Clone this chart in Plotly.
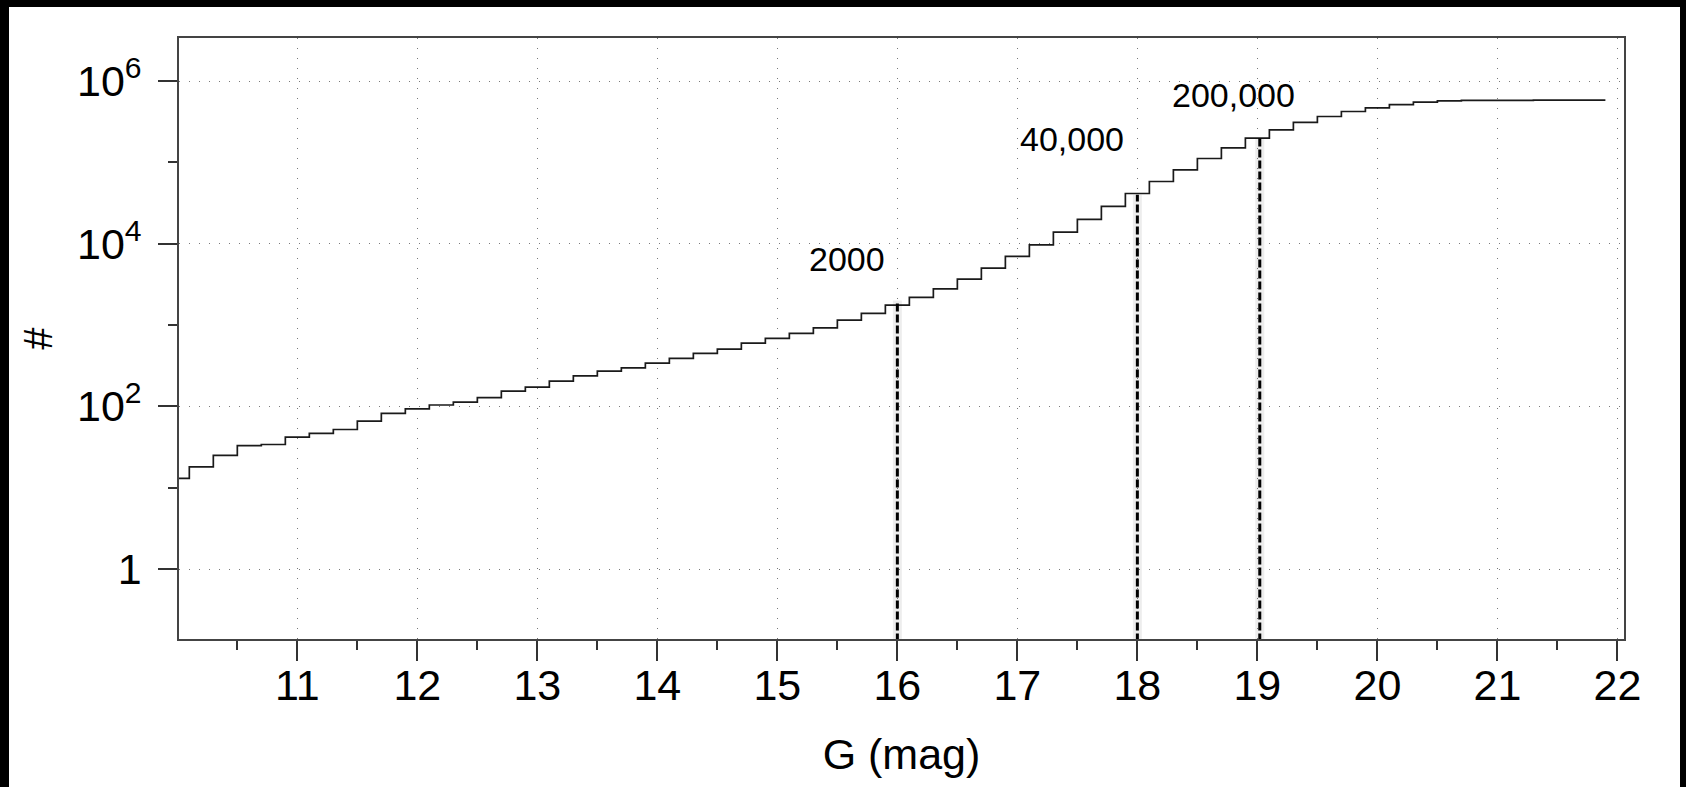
import plotly.graph_objects as go

# Cumulative star counts N(<G) in 0.2 mag bins
g_edges = [9.9, 10.1, 10.3, 10.5, 10.7, 10.9, 11.1, 11.3, 11.5, 11.7,
           11.9, 12.1, 12.3, 12.5, 12.7, 12.9, 13.1, 13.3, 13.5, 13.7,
           13.9, 14.1, 14.3, 14.5, 14.7, 14.9, 15.1, 15.3, 15.5, 15.7,
           15.9, 16.1, 16.3, 16.5, 16.7, 16.9, 17.1, 17.3, 17.5, 17.7,
           17.9, 18.1, 18.3, 18.5, 18.7, 18.9, 19.1, 19.3, 19.5, 19.7,
           19.9, 20.1, 20.3, 20.5, 20.7, 20.9, 21.1, 21.3, 21.5, 21.7, 21.9]
n_cum = [13, 18, 25, 33, 34, 42, 46.5, 52, 66, 82,
         93, 104, 113, 128, 154, 173, 205, 238, 272, 298,
         341, 389, 448, 506, 600, 685, 789, 925, 1150, 1390,
         1760, 2190, 2790, 3670, 5010, 6980, 9700, 13900, 19900, 28800,
         41500, 58300, 81100, 111800, 151000, 198700, 251000, 310000, 367000, 423000,
         469000, 515000, 550000, 571000, 578000, 580000, 581000, 582000, 582000, 582000]

# Marked magnitude limits and the counts quoted there
mark_g = [16.0, 18.0, 19.02]
mark_n = [2000, 40000, 200000]
mark_text = ["2000", "40,000", "200,000"]

g_ticks = [11, 12, 13, 14, 15, 16, 17, 18, 19, 20, 21, 22]
g_tick_text = [str(t) for t in g_ticks]
n_ticks = [1, 1e2, 1e4, 1e6]
n_tick_text = ["1", "10<sup>2</sup>", "10<sup>4</sup>", "10<sup>6</sup>"]

W, H = 1686, 787
ML, MR, MT, MB = 179, 62, 38, 148
X_RANGE = [10.014, 22.055]
Y_RANGE = [-0.86, 6.53]          # log10 units
FONT = "Liberation Sans, Arial, Helvetica, sans-serif"

fig = go.Figure()

# step curve: each point starts a bin, the last point closes the final bin
fig.add_trace(go.Scatter(
    x=g_edges, y=n_cum + [n_cum[-1]],
    mode="lines", line=dict(color="#1a1a1a", width=1.7, shape="hv"),
    showlegend=False, hoverinfo="x+y"))

# dashed drop lines from the axis floor up to each quoted count
floor_n = 10 ** Y_RANGE[0] / 2
for g, n in zip(mark_g, mark_n):
    fig.add_trace(go.Scatter(
        x=[g, g], y=[floor_n, n], mode="lines",
        line=dict(color="rgba(0,0,0,0.07)", width=9),
        showlegend=False, hoverinfo="skip"))
    fig.add_trace(go.Scatter(
        x=[g, g], y=[floor_n, n], mode="lines",
        line=dict(color="black", width=3, dash="8px,3px"),
        showlegend=False, hoverinfo="skip"))

# count labels above the drop lines
label_pos = [(15.58, 3.81), (17.455, 5.29), (18.80, 5.829)]
for (lx, ly), txt in zip(label_pos, mark_text):
    fig.add_annotation(x=lx, y=ly, xref="x", yref="y", text=txt,
                       showarrow=False, xanchor="center", yanchor="middle",
                       font=dict(family=FONT, size=34, color="black"))


def px_x(p):
    return (p - ML) / (W - ML - MR)


def px_y(p):
    return (H - MB - p) / (H - MT - MB)


# black frame around the page edges
for x0, y0, x1, y1 in [(0, 0, 9, H), (0, 0, W, 7), (1680, 0, W, H)]:
    fig.add_shape(type="rect", xref="paper", yref="paper",
                  x0=px_x(x0), x1=px_x(x1), y0=px_y(y1), y1=px_y(y0),
                  fillcolor="black", line=dict(width=0), layer="above")

grid_style = dict(showgrid=True, gridcolor="#7a7a7a", gridwidth=1.2,
                  griddash="1px,9px")

fig.update_xaxes(
    range=X_RANGE, tickmode="array", tickvals=g_ticks, ticktext=g_tick_text,
    ticks="outside", ticklen=20, tickwidth=1.5, tickcolor="#333",
    showline=True, mirror=True, linecolor="#444", linewidth=1.6,
    zeroline=False, **grid_style,
    minor=dict(tickmode="array", tickvals=[t - 0.5 for t in g_ticks],
               ticks="outside", ticklen=9, tickwidth=1.5, tickcolor="#333",
               showgrid=False),
    tickfont=dict(family=FONT, size=43, color="black"),
    ticklabelstandoff=-12,
    title=dict(text="G (mag)", font=dict(family=FONT, size=43, color="black"),
               standoff=30),
)
fig.update_yaxes(
    type="log", range=Y_RANGE, tickmode="array", tickvals=n_ticks,
    ticktext=n_tick_text,
    ticks="outside", ticklen=19, tickwidth=1.5, tickcolor="#333",
    showline=True, mirror=True, linecolor="#444", linewidth=1.6,
    zeroline=False, **grid_style,
    minor=dict(tickmode="array", tickvals=[10, 1e3, 1e5],
               ticks="outside", ticklen=9, tickwidth=1.5, tickcolor="#333",
               showgrid=False),
    tickfont=dict(family=FONT, size=43, color="black"),
    ticklabelstandoff=8,
    title=dict(text="#", font=dict(family=FONT, size=40, color="black"),
               standoff=12),
)

fig.update_layout(
    width=W, height=H,
    margin=dict(l=ML, r=MR, t=MT, b=MB, autoexpand=False),
    paper_bgcolor="white", plot_bgcolor="white",
    font=dict(family=FONT, color="black"),
    showlegend=False,
)

fig.write_html("out.html")
